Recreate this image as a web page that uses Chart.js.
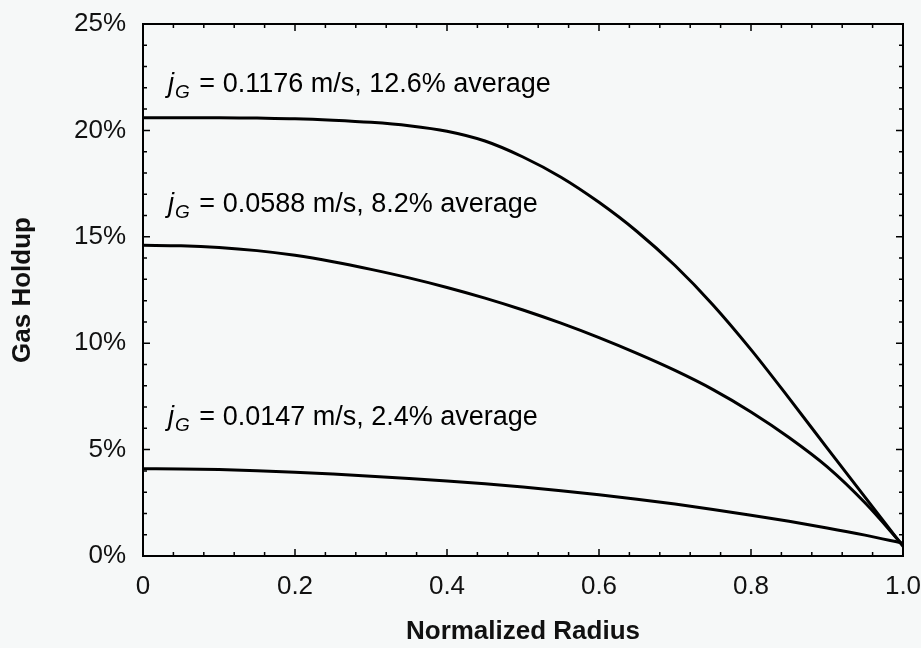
<!DOCTYPE html>
<html>
<head>
<meta charset="utf-8">
<script src="https://cdn.jsdelivr.net/npm/chart.js@4.4.1/dist/chart.umd.min.js"></script>
<style>
  html, body { margin: 0; padding: 0; background: #f6f8f8; }
  #wrap { width: 921px; height: 648px; }
</style>
</head>
<body>
<div id="wrap"><canvas id="chart" width="921" height="648"></canvas></div>
<script>
// data
const radius = [0, 0.05, 0.1, 0.15, 0.2, 0.25, 0.3, 0.35, 0.4, 0.45, 0.5,
                0.55, 0.6, 0.65, 0.7, 0.75, 0.8, 0.85, 0.9, 0.95, 1.0];
const holdupHigh = [20.6, 20.6, 20.6, 20.58, 20.55, 20.48, 20.38, 20.22, 19.96, 19.5, 18.75,
                    17.8, 16.62, 15.25, 13.65, 11.8, 9.7, 7.42, 5.08, 2.77, 0.45];
const holdupMid = [14.6, 14.58, 14.5, 14.35, 14.13, 13.83, 13.47, 13.07, 12.62, 12.12, 11.56,
                   10.94, 10.26, 9.52, 8.72, 7.82, 6.77, 5.57, 4.2, 2.5, 0.5];
const holdupLow = [4.1, 4.09, 4.06, 4.01, 3.94, 3.85, 3.75, 3.64, 3.52, 3.39, 3.24,
                   3.07, 2.88, 2.67, 2.44, 2.19, 1.92, 1.63, 1.32, 0.98, 0.6];

const seriesLabels = [
    ' = 0.1176 m/s, 12.6% average',
    ' = 0.0588 m/s, 8.2% average',
    ' = 0.0147 m/s, 2.4% average'
];
const xTicks = [0, 0.2, 0.4, 0.6, 0.8, 1.0];
const yTicks = [0, 5, 10, 15, 20, 25];
const xTitle = 'Normalized Radius';
const yTitle = 'Gas Holdup';

// posisi teks keterangan (dalam koordinat data)
const labelPos = [
    { x: 0.033, y: 21.8 },
    { x: 0.033, y: 16.17 },
    { x: 0.033, y: 6.16 }
];

const FONT = "'Liberation Sans', Arial, Helvetica, sans-serif";

function toPoints(ys) {
    return radius.map((r, i) => ({ x: r, y: ys[i] }));
}

function lineSet(label, ys) {
    return {
        label: label,
        data: toPoints(ys),
        borderColor: '#000',
        borderWidth: 3,
        pointRadius: 0,
        fill: false,
        cubicInterpolationMode: 'monotone'
    };
}

// plugin untuk bingkai, tick ke dalam dan teks keterangan
const framePlugin = {
    id: 'frame',
    afterDraw(chart) {
        const ctx = chart.ctx;
        const a = chart.chartArea;
        const xs = chart.scales.x;
        const ys = chart.scales.y;
        ctx.save();
        ctx.strokeStyle = '#000';
        ctx.lineWidth = 2;
        ctx.strokeRect(a.left, a.top, a.right - a.left, a.bottom - a.top);

        ctx.lineWidth = 1.5;
        ctx.beginPath();
        // x ticks, minor setiap 0.04
        for (let i = 0; i <= 25; i++) {
            const px = xs.getPixelForValue(i * 0.04);
            const len = (i % 5 === 0) ? 7 : 4;
            ctx.moveTo(px, a.bottom); ctx.lineTo(px, a.bottom - len);
            ctx.moveTo(px, a.top); ctx.lineTo(px, a.top + len);
        }
        // y ticks, minor setiap 1%
        for (let i = 0; i <= 25; i++) {
            const py = ys.getPixelForValue(i);
            const len = (i % 5 === 0) ? 7 : 4;
            ctx.moveTo(a.left, py); ctx.lineTo(a.left + len, py);
            ctx.moveTo(a.right, py); ctx.lineTo(a.right - len, py);
        }
        ctx.stroke();

        // teks keterangan
        ctx.fillStyle = '#000';
        ctx.textBaseline = 'alphabetic';
        ctx.textAlign = 'left';
        labelPos.forEach((p, i) => {
            let x = xs.getPixelForValue(p.x);
            const y = ys.getPixelForValue(p.y);
            ctx.font = 'italic 27px ' + FONT;
            ctx.fillText('j', x, y);
            x += ctx.measureText('j').width + 1;
            ctx.font = 'italic 19px ' + FONT;
            ctx.fillText('G', x, y + 6);
            x += ctx.measureText('G').width + 2;
            ctx.font = '27px ' + FONT;
            ctx.fillText(seriesLabels[i], x, y);
        });
        ctx.restore();
    }
};

document.addEventListener("DOMContentLoaded", function () {
    const ctx = document.getElementById('chart').getContext('2d');
    new Chart(ctx, {
        type: 'line',
        data: {
            datasets: [
                lineSet('high', holdupHigh),
                lineSet('mid', holdupMid),
                lineSet('low', holdupLow)
            ]
        },
        options: {
            responsive: false,
            animation: false,
            layout: { padding: { top: 24, right: 18, left: 0, bottom: 0 } },
            plugins: {
                legend: { display: false },
                tooltip: { enabled: false }
            },
            scales: {
                x: {
                    type: 'linear',
                    min: 0,
                    max: 1,
                    afterBuildTicks: (scale) => { scale.ticks = xTicks.map(v => ({ value: v })); },
                    afterFit: (scale) => {
                        scale.height = 92;
                        scale.paddingLeft = 0;
                        scale.paddingRight = 0;
                    },
                    grid: { display: false, drawTicks: false },
                    border: { display: false },
                    ticks: {
                        padding: 15,
                        color: '#111',
                        font: { family: FONT, size: 26 },
                        maxRotation: 0,
                        callback: (v) => v === 0 ? '0' : v.toFixed(1)
                    },
                    title: {
                        display: true,
                        text: xTitle,
                        color: '#111',
                        font: { family: FONT, size: 26, weight: 'bold' },
                        padding: { top: 0, bottom: 1 }
                    }
                },
                y: {
                    type: 'linear',
                    min: 0,
                    max: 25,
                    afterBuildTicks: (scale) => { scale.ticks = yTicks.map(v => ({ value: v })); },
                    afterFit: (scale) => {
                        scale.width = 143;
                        scale.paddingTop = 0;
                        scale.paddingBottom = 0;
                    },
                    grid: { display: false, drawTicks: false },
                    border: { display: false },
                    ticks: {
                        padding: 17,
                        color: '#111',
                        font: { family: FONT, size: 26 },
                        callback: (v) => v + '%'
                    },
                    title: {
                        display: true,
                        text: yTitle,
                        color: '#111',
                        font: { family: FONT, size: 26, weight: 'bold' },
                        padding: { top: 7, bottom: 0 }
                    }
                }
            }
        },
        plugins: [framePlugin]
    });
});
</script>
</body>
</html>
